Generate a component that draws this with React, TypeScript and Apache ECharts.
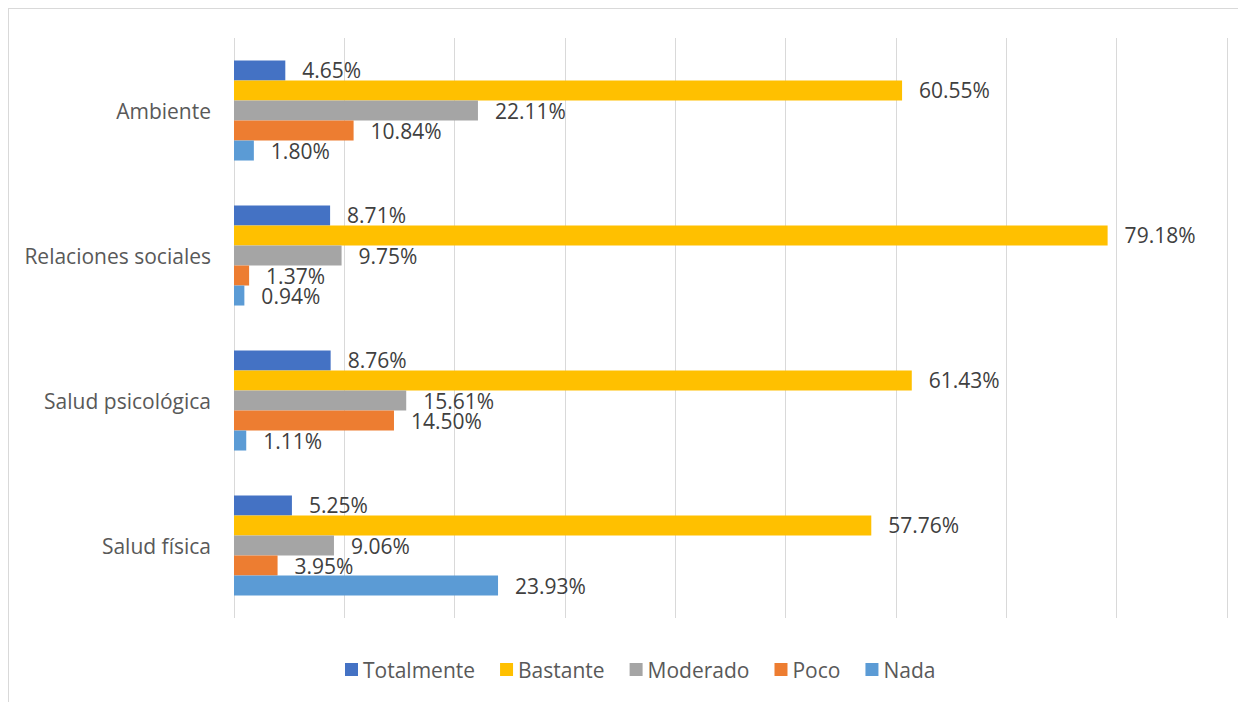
import React, { useEffect, useRef } from "react";
import * as echarts from "echarts";

const categories = ["Ambiente", "Relaciones sociales", "Salud psicológica", "Salud física"];
const seriesNames = ["Totalmente", "Bastante", "Moderado", "Poco", "Nada"];
const totalmente = [4.65, 8.71, 8.76, 5.25];
const bastante = [60.55, 79.18, 61.43, 57.76];
const moderado = [22.11, 9.75, 15.61, 9.06];
const poco = [10.84, 1.37, 14.5, 3.95];
const nada = [1.8, 0.94, 1.11, 23.93];
const seriesValues = [totalmente, bastante, moderado, poco, nada];
const colors = ["#4472C4", "#FFC000", "#A5A5A5", "#ED7D31", "#5B9BD5"];

const FONT = "'Open Sans', sans-serif";

export default function App() {
  const ref = useRef<HTMLDivElement>(null);
  useEffect(() => {
    if (!ref.current) return;
    const chart = echarts.init(ref.current, undefined, { renderer: "svg" });
    chart.setOption({
      animation: false,
      textStyle: { fontFamily: FONT },
      grid: { left: 226, right: 19, top: 30, bottom: 84, containLabel: false },
      legend: {
        bottom: 17,
        left: 332,
        itemWidth: 13,
        itemHeight: 13,
        itemGap: 25,
        icon: "rect",
        textStyle: { fontFamily: FONT, fontSize: 21, color: "#595959" },
        data: seriesNames,
      },
      xAxis: {
        type: "value",
        min: 0,
        max: 90,
        interval: 10,
        axisLabel: { show: false },
        axisLine: { show: false },
        axisTick: { show: false },
        splitLine: { show: true, lineStyle: { color: "#d9d9d9", width: 1 } },
      },
      yAxis: {
        type: "category",
        inverse: true,
        data: categories,
        axisLine: { show: false },
        axisTick: { show: false },
        axisLabel: { fontFamily: FONT, fontSize: 21, color: "#595959", margin: 23 },
      },
      series: seriesNames.map((name, i) => ({
        name,
        type: "bar",
        data: seriesValues[i],
        barGap: "0%",
        barCategoryGap: "31%",
        itemStyle: { color: colors[i] },
        label: {
          show: true,
          position: "right",
          distance: 17,
          fontFamily: FONT,
          fontSize: 21,
          color: "#404040",
          formatter: (p: any) => Number(p.value).toFixed(2) + "%",
        },
      })),
    });
    return () => chart.dispose();
  }, []);
  return (
    <div
      style={{
        position: "relative",
        width: 1238,
        height: 694,
        boxSizing: "border-box",
        borderTop: "1px solid #d9d9d9",
        borderLeft: "1px solid #d9d9d9",
        overflow: "hidden",
      }}
    >
      <div ref={ref} style={{ position: "absolute", left: -1, top: -1, width: 1238, height: 694 }} />
    </div>
  );
}
